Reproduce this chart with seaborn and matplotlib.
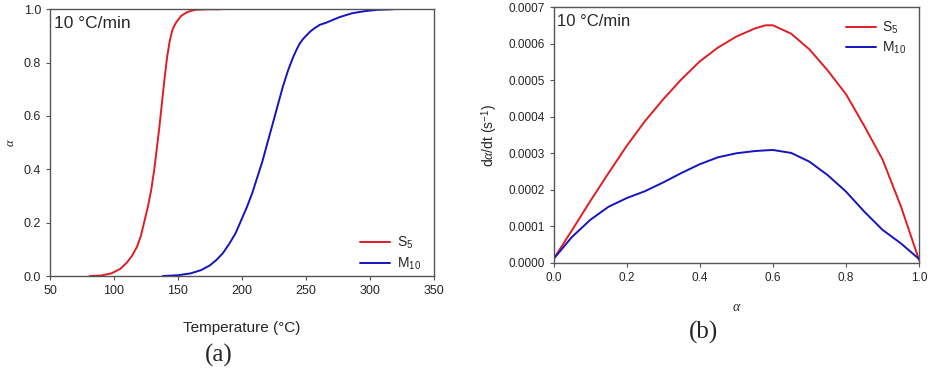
import numpy as np
import pandas as pd
import seaborn as sns
import matplotlib.pyplot as plt
from matplotlib.ticker import FormatStrFormatter

# (a) conversion vs temperature
s5_temp = [81, 90, 98, 105, 110, 114, 118, 121, 123.5, 126.5, 129, 131.5, 133.5,
           135.5, 137.5, 139.5, 141.5, 143.5, 145.5, 147, 148.5, 150.5, 152.5, 155,
           157.5, 161, 164, 172, 183]
s5_alpha = [0.0, 0.002, 0.01, 0.027, 0.05, 0.075, 0.11, 0.15, 0.2, 0.26, 0.32, 0.40, 0.48,
            0.56, 0.65, 0.74, 0.82, 0.88, 0.92, 0.937, 0.95, 0.963, 0.975, 0.983,
            0.99, 0.995, 0.998, 1.0, 1.0]
m10_temp = [138, 150, 160, 168, 175, 180, 185, 190, 195, 199.5, 204, 208, 212, 216, 220,
            224, 228, 232, 236, 240, 242.5, 245, 247.5, 250, 253.5, 257, 261, 266, 276,
            286, 296, 306, 318]
m10_alpha = [0.0, 0.003, 0.01, 0.022, 0.04, 0.06, 0.085, 0.12, 0.16, 0.21, 0.26, 0.31, 0.37,
             0.43, 0.5, 0.57, 0.64, 0.71, 0.77, 0.82, 0.847, 0.87, 0.887, 0.90, 0.917,
             0.93, 0.942, 0.95, 0.97, 0.985, 0.993, 0.998, 1.0]

# (b) rate vs conversion
alpha_grid = [0.0, 0.05, 0.1, 0.15, 0.2, 0.25, 0.3, 0.35, 0.4, 0.45, 0.5, 0.55, 0.58, 0.6,
              0.65, 0.7, 0.75, 0.8, 0.85, 0.9, 0.95, 1.0]
s5_rate = [0.00001, 0.000088, 0.000168, 0.000245, 0.00032, 0.000388, 0.000448, 0.000503,
           0.000552, 0.00059, 0.00062, 0.000642, 0.000651, 0.000651, 0.000628, 0.000585,
           0.000527, 0.000462, 0.000375, 0.000283, 0.000155, 0.000007]
m10_rate = [0.00001, 0.00007, 0.000117, 0.000153, 0.000177, 0.000196, 0.00022, 0.000246,
            0.00027, 0.000289, 0.0003, 0.000306, 0.000308, 0.000309, 0.000301, 0.000277,
            0.00024, 0.000195, 0.00014, 0.00009, 0.000053, 0.00001]

RED = '#e01c24'
BLUE = '#1414c0'
SPINE = '#555555'

sns.set_style('ticks')
plt.rcParams['font.family'] = ['Liberation Sans', 'DejaVu Sans']
plt.rcParams['mathtext.fontset'] = 'custom'
plt.rcParams['mathtext.rm'] = 'Liberation Sans'
plt.rcParams['mathtext.it'] = 'Liberation Serif:italic'

fig = plt.figure(figsize=(9.35, 3.71), dpi=100)
ax1 = fig.add_axes([0.0535, 0.256, 0.4105, 0.719])
ax2 = fig.add_axes([0.592, 0.292, 0.391, 0.688])

df_a = pd.concat([
    pd.DataFrame({'T': s5_temp, 'a': s5_alpha, 's': 'S5'}),
    pd.DataFrame({'T': m10_temp, 'a': m10_alpha, 's': 'M10'}),
])
df_b = pd.concat([
    pd.DataFrame({'a': alpha_grid, 'r': s5_rate, 's': 'S5'}),
    pd.DataFrame({'a': alpha_grid, 'r': m10_rate, 's': 'M10'}),
])

labels = {'S5': r'S$_{\mathregular{5}}$', 'M10': r'M$_{\mathregular{10}}$'}
colors = {'S5': RED, 'M10': BLUE}

for name in ['S5', 'M10']:
    sub = df_a[df_a['s'] == name]
    sns.lineplot(x=sub['T'], y=sub['a'], ax=ax1, color=colors[name], lw=1.4,
                 label=labels[name], estimator=None)
    sub = df_b[df_b['s'] == name]
    sns.lineplot(x=sub['a'], y=sub['r'], ax=ax2, color=colors[name], lw=1.4,
                 label=labels[name], estimator=None)

ax1.set_xlim(50, 350)
ax1.set_ylim(0, 1.0)
ax1.set_xticks(np.arange(50, 351, 50))
ax1.set_yticks(np.arange(0, 1.01, 0.2))
ax1.yaxis.set_major_formatter(FormatStrFormatter('%.1f'))
ax1.set_xlabel('Temperature (°C)', fontsize=11, labelpad=17)
ax1.set_ylabel(r'$\alpha$', fontsize=9, labelpad=5)

ax2.set_xlim(0, 1.0)
ax2.set_ylim(0, 0.0007)
ax2.set_xticks(np.arange(0, 1.01, 0.2))
ax2.set_yticks(np.arange(0, 0.00071, 0.0001))
ax2.xaxis.set_major_formatter(FormatStrFormatter('%.1f'))
ax2.yaxis.set_major_formatter(FormatStrFormatter('%.4f'))
ax2.set_xlabel(r'$\alpha$', fontsize=10, labelpad=12)
ax2.set_ylabel(r'd$\alpha$/dt (s$^{\mathregular{-1}}$)', fontsize=10, labelpad=6)

for ax, tsize, lsize in ((ax1, 9, 12.5), (ax2, 8.5, 12)):
    for sp in ax.spines.values():
        sp.set_visible(True)
        sp.set_color(SPINE)
        sp.set_linewidth(1.0)
    ax.tick_params(direction='out', length=3, width=0.8, color=SPINE,
                   labelsize=tsize, top=False, right=False)
    ax.text(0.01, 0.975, '10 °C/min', transform=ax.transAxes, fontsize=lsize,
            va='top', ha='left')

ax1.legend(loc='lower right', frameon=False, fontsize=10, handlelength=2.2,
           handletextpad=0.5, labelspacing=0.3, bbox_to_anchor=(1.0, -0.03))
ax2.legend(loc='upper right', frameon=False, fontsize=10, handlelength=2.1,
           handletextpad=0.5, labelspacing=0.3, bbox_to_anchor=(1.0, 1.0))

fig.text(219 / 935, 1 - 355 / 371, '(a)', family='Liberation Serif', fontsize=18,
         ha='center', va='center')
fig.text(703 / 935, 1 - 332 / 371, '(b)', family='Liberation Serif', fontsize=18,
         ha='center', va='center')

fig.savefig('out.png', dpi=100)
